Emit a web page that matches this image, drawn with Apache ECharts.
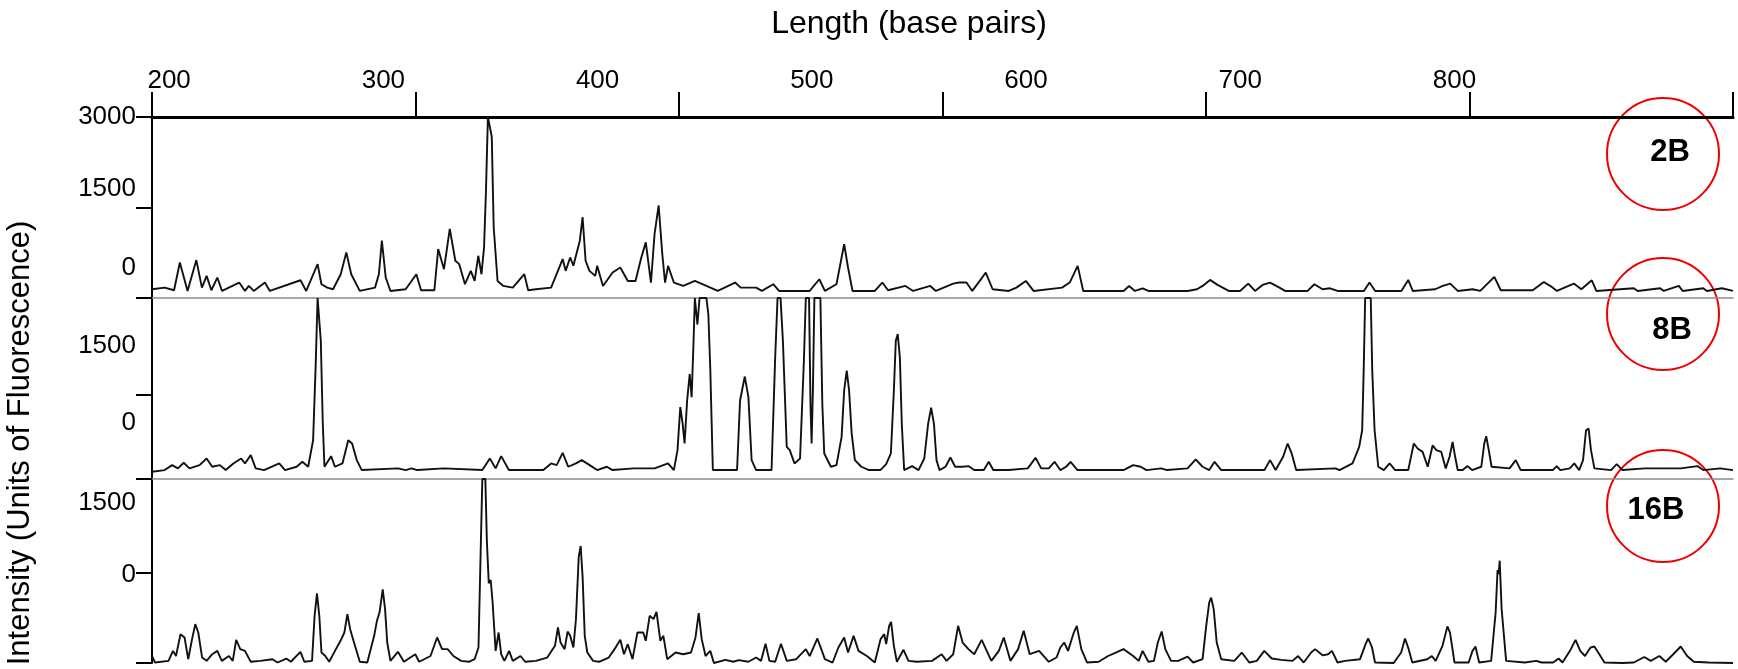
<!DOCTYPE html>
<html>
<head>
<meta charset="utf-8">
<title>Length (base pairs)</title>
<script src="https://cdn.jsdelivr.net/npm/echarts@6/dist/echarts.min.js"></script>
<style>
  html, body { margin: 0; padding: 0; background: #fff; }
  #chart { width: 1738px; height: 669px; }
</style>
</head>
<body>
<div id="chart"></div>
<script>
// fragment sizes shown on the top axis
var sizeLabels = [200, 300, 400, 500, 600, 700, 800];

// y tick labels per panel (ascending order)
var labels2B = ['0', '1500', '3000'];
var labels8B = ['0', '1500'];
var labels16B = ['0', '1500'];

// 2B trace: length (bp) / fluorescence
var bp2B = [192.0, 197.9, 202.3, 205.0, 208.6, 212.7, 215.3, 217.5, 219.7, 222.5, 224.7, 232.7, 235.4, 237.2, 239.5,
  244.7, 247.0, 261.3, 264.0, 269.3, 271.1, 273.8, 276.5, 280.1, 282.7, 285.0, 289.0, 296.1, 297.9, 299.3, 301.1,
  303.3, 310.4, 315.4, 317.6, 323.8, 325.6, 328.3, 331.0, 333.6, 335.4, 338.1, 340.8, 342.6, 344.3, 345.8, 347.0,
  347.9, 348.8, 349.7, 350.6, 351.5, 353.3, 356.0, 360.4, 365.8, 367.6, 371.2, 378.3, 383.7, 385.1, 387.2, 388.7,
  389.9, 391.7, 393.0, 394.4, 396.2, 398.9, 399.8, 402.5, 407.0, 410.6, 414.1, 417.7, 420.4, 422.5, 424.9, 426.6,
  428.5, 430.2, 431.5, 432.9, 435.6, 440.0, 445.4, 450.8, 456.1, 464.2, 466.8, 474.0, 476.7, 482.0, 484.7, 499.0,
  503.5, 506.1, 511.5, 515.1, 516.9, 519.0, 529.4, 532.9, 535.6, 543.7, 547.3, 555.3, 557.9, 566.0, 568.7, 572.2,
  574.9, 578.4, 581.2, 584.4, 591.9, 595.5, 599.9, 603.5, 616.8, 620.4, 624.1, 626.7, 645.5, 648.1, 650.8, 654.4,
  657.1, 675.4, 679.8, 682.4, 685.9, 689.4, 694.6, 699.9, 703.7, 706.9, 710.4, 713.9, 718.3, 720.9, 731.4, 734.6,
  738.4, 741.9, 745.4, 757.7, 760.3, 763.0, 775.2, 778.4, 780.5, 791.0, 794.5, 798.0, 801.5, 808.5, 812.0, 818.6,
  821.6, 836.5, 841.7, 845.2, 847.8, 855.7, 859.2, 864.1, 866.2, 883.7, 885.5, 896.0, 897.7, 904.7, 906.5, 916.1,
  917.8, 924.8, 930.0];
var int2B = [145, 172, 128, 588, 117, 628, 172, 367, 128, 339, 117, 256, 117, 200, 117,
  256, 117, 294, 117, 561, 228, 172, 145, 394, 756, 394, 117, 172, 394, 950, 339,
  117, 145, 394, 128, 128, 811, 478, 1145, 617, 561, 228, 450, 283, 700, 394, 839,
  1784, 3000, 3000, 2672, 1172, 283, 200, 172, 394, 128, 145, 172, 645, 450, 672, 535,
  700, 950, 1339, 617, 450, 367, 533, 200, 422, 506, 283, 283, 672, 922, 256, 1061,
  1534, 728, 256, 533, 256, 200, 283, 200, 117, 256, 172, 172, 117, 228, 117, 117,
  311, 117, 228, 894, 506, 117, 117, 256, 128, 200, 117, 200, 117, 239, 256, 256,
  117, 283, 422, 145, 117, 172, 283, 117, 172, 256, 533, 117, 117, 200, 117, 161,
  117, 117, 145, 200, 300, 217, 117, 117, 239, 117, 217, 256, 172, 117, 117, 228,
  145, 161, 117, 117, 256, 117, 117, 300, 117, 145, 200, 239, 117, 145, 117, 350,
  128, 128, 266, 189, 117, 239, 145, 294, 117, 161, 117, 161, 117, 200, 117, 161,
  117, 161, 117];

// 8B trace
var bp8B = [192.0, 197.9, 201.4, 204.1, 206.8, 209.5, 214.2, 217.5, 220.1, 223.7, 226.4, 230.0, 233.6, 235.4, 238.1,
  240.4, 244.3, 251.4, 254.1, 259.5, 262.2, 264.9, 267.2, 268.4, 269.3, 270.1, 270.8, 271.7, 272.5, 275.6, 277.4,
  280.9, 283.6, 285.4, 287.6, 289.9, 306.9, 310.4, 313.1, 315.8, 328.3, 346.2, 349.7, 352.4, 355.0, 358.6, 374.7,
  378.3, 380.9, 383.7, 386.3, 389.9, 392.6, 396.3, 399.8, 404.3, 407.0, 416.8, 421.3, 426.6, 432.9, 435.6, 437.3,
  438.6, 439.7, 440.6, 441.8, 443.0, 443.9, 444.7, 445.4, 446.6, 447.6, 450.8, 451.7, 452.6, 453.8, 465.1, 466.5,
  468.7, 470.4, 471.9, 474.0, 481.2, 482.9, 484.0, 485.4, 486.5, 488.3, 489.7, 491.9, 494.5, 496.3, 497.2, 498.7,
  499.4, 499.9, 500.5, 501.2, 504.0, 504.9, 505.8, 508.9, 511.5, 513.9, 515.1, 516.3, 517.4, 518.6, 520.1, 523.1,
  526.7, 532.0, 534.7, 536.9, 538.3, 539.2, 540.1, 541.1, 542.0, 543.1, 546.8, 549.8, 552.5, 554.3, 555.7, 557.0,
  558.2, 559.6, 562.4, 564.7, 566.9, 570.4, 573.1, 575.8, 580.3, 582.6, 584.7, 591.9, 600.8, 604.4, 607.1, 610.6,
  613.3, 616.0, 618.7, 620.8, 624.0, 645.5, 650.0, 653.5, 656.2, 663.1, 665.8, 675.4, 679.2, 682.4, 685.5, 688.0,
  691.1, 711.3, 713.9, 716.5, 720.0, 722.1, 724.0, 726.1, 744.5, 746.3, 752.4, 755.5, 756.9, 757.6, 758.3, 760.9,
  761.6, 762.7, 764.4, 767.0, 769.7, 772.3, 778.4, 781.0, 782.8, 785.1, 787.5, 789.8, 791.5, 793.8, 795.9, 797.7,
  799.1, 800.3, 801.5, 803.8, 806.1, 808.2, 812.5, 813.9, 814.8, 816.0, 817.3, 825.7, 828.6, 830.9, 845.9, 847.7,
  849.4, 853.8, 855.9, 858.2, 860.0, 861.4, 862.6, 863.7, 865.3, 873.1, 875.7, 878.4, 888.9, 895.1, 905.6, 913.4,
  916.1, 924.0, 930.0];
var int8B = [121, 148, 230, 176, 269, 176, 230, 340, 203, 230, 148, 258, 340, 258, 395,
  176, 148, 258, 148, 203, 285, 203, 643, 1879, 3000, 3000, 2291, 945, 203, 379, 203,
  258, 643, 588, 313, 148, 176, 148, 176, 148, 176, 148, 340, 176, 379, 148, 148,
  258, 230, 434, 203, 258, 313, 230, 148, 203, 148, 176, 176, 176, 258, 148, 478,
  1192, 917, 588, 1302, 1741, 1357, 2181, 3000, 2560, 3000, 3000, 2730, 1831, 148, 148, 1302,
  1698, 1357, 313, 148, 148, 2016, 3000, 3000, 2291, 533, 478, 258, 340, 1961, 3000, 3000,
  1192, 588, 1467, 3000, 3000, 1247, 423, 203, 230, 698, 1467, 1796, 1467, 753, 313, 203,
  148, 148, 247, 423, 1467, 2291, 2401, 2016, 917, 148, 214, 148, 340, 917, 1181, 917,
  313, 148, 203, 357, 203, 203, 214, 148, 148, 285, 148, 148, 176, 351, 176, 176,
  285, 148, 203, 285, 148, 148, 230, 203, 148, 176, 148, 176, 324, 203, 148, 285,
  148, 148, 313, 148, 368, 588, 423, 148, 176, 148, 258, 533, 808, 1796, 3000, 3000,
  1796, 808, 203, 148, 258, 148, 148, 588, 505, 450, 203, 560, 478, 450, 176, 368,
  615, 368, 148, 148, 214, 148, 203, 588, 709, 478, 203, 176, 313, 148, 148, 214,
  148, 176, 258, 148, 313, 808, 835, 478, 176, 148, 247, 148, 176, 176, 176, 214,
  148, 176, 148];

// 16B trace
var bp16B = [192.0, 193.4, 199.7, 201.8, 203.2, 205.3, 207.2, 208.9, 210.7, 212.2, 213.6, 215.4, 217.5, 220.1, 222.5,
  224.6, 227.9, 229.7, 231.3, 233.2, 235.4, 238.1, 242.5, 248.2, 250.6, 254.7, 256.8, 261.3, 263.1, 266.7, 267.9,
  269.0, 270.1, 271.1, 272.9, 274.7, 277.4, 280.0, 281.8, 283.2, 284.5, 286.3, 289.0, 292.5, 295.7, 297.0, 298.2,
  299.7, 300.8, 301.8, 303.3, 306.8, 309.6, 314.9, 316.7, 322.0, 325.1, 327.4, 330.0, 332.7, 336.3, 339.9, 342.6,
  344.4, 345.4, 346.2, 347.6, 348.3, 349.2, 350.1, 351.0, 352.4, 353.8, 355.0, 356.5, 358.7, 360.4, 364.0, 366.2,
  371.2, 376.5, 380.1, 381.5, 382.7, 384.6, 386.0, 387.2, 388.7, 389.9, 391.2, 392.1, 393.0, 394.0, 395.2, 397.9,
  400.7, 405.2, 407.9, 410.6, 412.3, 414.1, 416.3, 418.6, 421.3, 422.5, 424.3, 426.1, 427.5, 429.3, 430.7, 432.5,
  436.4, 440.0, 443.6, 445.7, 447.2, 448.6, 450.4, 452.6, 454.3, 459.7, 463.3, 465.9, 470.4, 474.0, 476.3, 478.4,
  480.2, 482.9, 485.6, 488.3, 492.7, 497.2, 499.0, 502.6, 506.1, 509.7, 512.4, 515.1, 516.9, 519.5, 521.8, 525.7,
  529.4, 532.1, 533.8, 534.7, 536.1, 537.0, 538.3, 539.7, 542.8, 545.1, 549.0, 556.1, 560.6, 562.9, 566.0, 568.3,
  570.4, 573.1, 575.8, 579.3, 583.8, 587.3, 589.6, 592.7, 596.3, 598.9, 601.7, 606.1, 610.6, 614.2, 616.0, 617.8,
  619.6, 622.3, 623.7, 625.8, 628.5, 633.9, 638.3, 641.9, 645.5, 650.0, 652.6, 654.4, 657.1, 659.7, 661.5, 663.3,
  665.0, 667.7, 671.0, 675.4, 678.0, 682.4, 684.1, 685.5, 686.4, 687.6, 689.0, 691.1, 697.2, 700.7, 704.2, 707.7,
  711.2, 714.7, 719.1, 724.4, 727.0, 729.6, 733.1, 734.9, 738.4, 741.0, 742.8, 745.4, 748.9, 755.9, 758.5, 759.7,
  761.5, 762.9, 771.6, 775.1, 776.9, 778.6, 780.3, 787.3, 789.4, 791.2, 794.4, 796.7, 797.9, 800.0, 806.6, 808.4,
  809.8, 811.5, 817.1, 819.2, 820.1, 820.6, 821.1, 822.0, 824.1, 832.8, 838.1, 840.7, 846.0, 848.6, 850.4, 853.9,
  856.5, 858.7, 860.9, 863.5, 865.3, 867.6, 870.0, 878.4, 883.7, 888.6, 891.6, 895.6, 898.6, 902.1, 905.6, 908.6,
  911.7, 918.7, 930.0];
var int16B = [114, 8, 35, 198, 114, 470, 416, 62, 389, 633, 497, 89, 35, 143, 198,
  35, 114, 35, 378, 226, 198, 20, 35, 62, 8, 73, 20, 182, 20, 35, 769,
  1136, 769, 171, 114, 20, 198, 362, 497, 796, 552, 334, 20, 8, 443, 688, 823,
  1200, 878, 334, 35, 182, 20, 143, 20, 114, 416, 226, 226, 114, 35, 20, 62,
  253, 1787, 3000, 3000, 2005, 1299, 1353, 986, 198, 497, 143, 35, 198, 35, 114, 20,
  35, 89, 280, 579, 334, 226, 513, 443, 253, 715, 1732, 1907, 1408, 443, 171, 35,
  20, 89, 226, 378, 143, 307, 62, 497, 497, 362, 769, 715, 834, 362, 443, 62,
  171, 143, 171, 416, 812, 389, 114, 198, 0, 51, 20, 46, 20, 89, 35, 315,
  35, 20, 315, 35, 62, 226, 114, 400, 62, 8, 253, 416, 171, 443, 198, 114,
  8, 389, 470, 307, 606, 671, 280, 20, 215, 35, 20, 35, 143, 35, 143, 606,
  334, 226, 143, 378, 35, 198, 416, 35, 226, 525, 143, 198, 20, 89, 253, 334,
  198, 497, 606, 226, 8, 20, 114, 171, 226, 114, 35, 198, 20, 35, 334, 513,
  226, 35, 35, 103, 8, 62, 606, 986, 1065, 878, 334, 62, 35, 171, 8, 35,
  198, 73, 51, 35, 114, 8, 171, 226, 125, 143, 198, 8, 35, 62, 307, 400,
  253, 8, 0, 171, 400, 226, 8, 62, 114, 35, 280, 597, 497, 8, 8, 198,
  269, 8, 35, 823, 1516, 1450, 1668, 878, 35, 8, 35, 8, 8, 73, 8, 198,
  378, 198, 114, 253, 269, 143, 8, 0, 8, 98, 35, 114, 20, 143, 269, 114,
  20, 8, 0];

function pairs(bp, val) {
  return bp.map(function (b, i) { return [b, val[i]]; });
}

var FONT = '"Liberation Sans", Arial, sans-serif';
var BP_MIN = 192, BP_MAX = 930;

// labelAt: where each printed label sits on the panel's own scale
function panelY(gridIndex, tickAt, labelAt, labels) {
  return {
    type: 'value',
    gridIndex: gridIndex,
    min: 0,
    max: 3000,
    axisLine: { show: true, onZero: false, lineStyle: { color: '#000', width: 2 } },
    axisTick: { show: true, customValues: tickAt, length: 16, lineStyle: { color: '#000', width: 2 } },
    axisLabel: {
      customValues: labelAt,
      formatter: function (v) {
        var k = labelAt.indexOf(v);
        return k >= 0 ? labels[k] : '';
      },
      color: '#000',
      fontFamily: FONT,
      fontSize: 26,
      margin: 16
    },
    splitLine: { show: false }
  };
}

function separatorX(gridIndex) {
  return {
    type: 'value',
    gridIndex: gridIndex,
    min: BP_MIN,
    max: BP_MAX,
    position: 'top',
    axisLine: { show: true, onZero: false, lineStyle: { color: '#8c8c8c', width: 1.5 } },
    axisTick: { show: false },
    axisLabel: { show: false },
    splitLine: { show: false }
  };
}

function trace(name, xi, yi, bp, val) {
  return {
    name: name,
    type: 'line',
    xAxisIndex: xi,
    yAxisIndex: yi,
    data: pairs(bp, val),
    showSymbol: false,
    symbol: 'none',
    clip: true,
    lineStyle: { color: '#111', width: 1.9 }
  };
}

function badge(text, x, y) {
  return {
    type: 'text', x: x, y: y,
    style: { text: text, fontFamily: FONT, fontSize: 31, fontWeight: 'bold', fill: '#000',
      textAlign: 'center', align: 'center', textVerticalAlign: 'middle', verticalAlign: 'middle' }
  };
}

function ring(cy) {
  return { type: 'circle', shape: { cx: 1663, cy: cy, r: 56 },
    style: { fill: 'none', stroke: '#f00000', lineWidth: 2 } };
}

var chart = echarts.init(document.getElementById('chart'));

var option = {
  animation: false,
  backgroundColor: '#fff',
  grid: [
    { left: 152, right: 5, top: 117, height: 181 },
    { left: 152, right: 5, top: 298, height: 181 },
    { left: 152, right: 5, top: 479, height: 184 }
  ],
  xAxis: [
    {
      type: 'value',
      gridIndex: 0,
      min: BP_MIN,
      max: BP_MAX,
      position: 'top',
      axisLine: { show: false, onZero: false },
      axisTick: { show: false },
      axisLabel: {
        customValues: sizeLabels,
        color: '#000',
        fontFamily: FONT,
        fontSize: 26,
        margin: 23
      },
      splitLine: { show: false }
    },
    {
      // scale bar with its own tick spacing
      type: 'value',
      gridIndex: 0,
      min: 0,
      max: 6,
      interval: 1,
      position: 'top',
      axisLine: { show: true, onZero: false, lineStyle: { color: '#000', width: 3 } },
      axisTick: { show: true, length: 25, lineStyle: { color: '#000', width: 2 } },
      axisLabel: { show: false },
      splitLine: { show: false }
    },
    separatorX(1),
    separatorX(2)
  ],
  yAxis: [
    panelY(0, [0, 1500, 3000], [497, 1806, 3000], labels2B),
    panelY(1, [0, 1400, 3000], [928, 2212], labels8B),
    panelY(2, [0, 1470, 3000], [1443, 2616], labels16B)
  ],
  series: [
    trace('2B', 0, 0, bp2B, int2B),
    trace('8B', 2, 1, bp8B, int8B),
    trace('16B', 3, 2, bp16B, int16B)
  ],
  graphic: [
    {
      type: 'text', x: 909, y: 24,
      style: { text: 'Length (base pairs)', fontFamily: FONT, fontSize: 32, fill: '#000',
        textAlign: 'center', align: 'center', textVerticalAlign: 'middle', verticalAlign: 'middle' }
    },
    {
      type: 'text', x: 20, y: 443, rotation: Math.PI / 2,
      style: { text: 'Intensity (Units of Fluorescence)', fontFamily: FONT, fontSize: 31, fill: '#000',
        textAlign: 'center', align: 'center', textVerticalAlign: 'middle', verticalAlign: 'middle' }
    },
    ring(154), ring(314), ring(506),
    badge('2B', 1670, 152),
    badge('8B', 1672, 330),
    badge('16B', 1656, 510)
  ]
};

chart.setOption(option);
</script>
</body>
</html>
